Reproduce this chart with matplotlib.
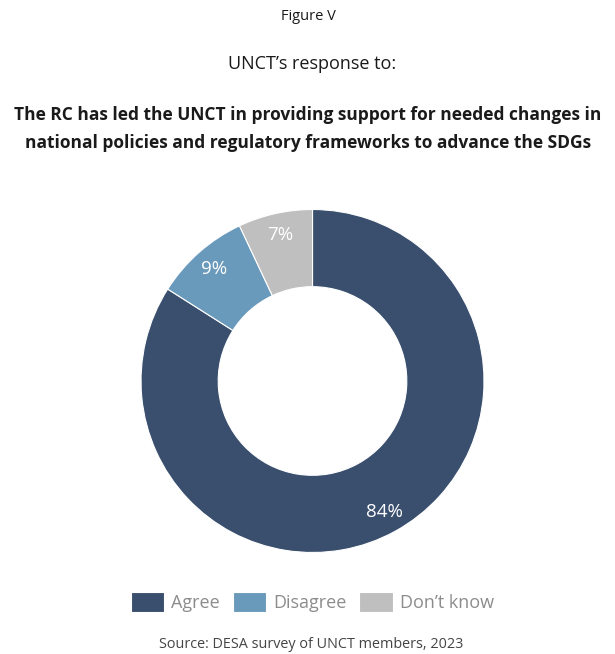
import matplotlib
matplotlib.use("Agg")
from matplotlib import pyplot as plt

plt.rcParams["font.family"] = ["Open Sans", "DejaVu Sans"]

categories = ["Agree", "Disagree", "Don\u2019t know"]
shares = [84, 9, 7]
colors = ["#3A4F6E", "#6A9ABB", "#BFBFBF"]

fig = plt.figure(figsize=(6.15, 6.54), dpi=100)

# Titelrader
fig.text(0.501, 1 - 17 / 654, "Figure V", ha="center", va="center", fontsize=10.5, color="#1A1A1A")
fig.text(0.508, 1 - 64 / 654, "UNCT\u2019s response to:", ha="center", va="center", fontsize=13, color="#1A1A1A")
fig.text(0.501, 1 - 129 / 654,
         "The RC has led the UNCT in providing support for needed changes in\n"
         "national policies and regulatory frameworks to advance the SDGs",
         ha="center", va="center", fontsize=12.5, fontweight="bold", color="#1A1A1A",
         linespacing=1.75)

# Munk-diagram
ax = fig.add_axes([0.2293, 0.1552, 0.5577, 0.5245])
wedges, texts, autotexts = ax.pie(
    shares, colors=colors, startangle=90, counterclock=False,
    radius=1, autopct="%d%%", pctdistance=0.87,
    wedgeprops=dict(width=0.45, edgecolor="white", linewidth=0.8),
    textprops=dict(color="white", fontsize=13.5))
ax.set_xlim(-1, 1)
ax.set_ylim(-1, 1)
ax.set_aspect("equal")
ax.axis("off")

leg = fig.legend(wedges, categories, loc="center", bbox_to_anchor=(0.508, 1 - 602 / 654),
                 ncol=3, frameon=False, fontsize=13, handlelength=1.85, handleheight=1.3,
                 handletextpad=0.4, columnspacing=0.7)
for t in leg.get_texts():
    t.set_color("#8C8C8C")

fig.text(0.506, 1 - 645 / 654, "Source: DESA survey of UNCT members, 2023",
         ha="center", va="center", fontsize=10.4, color="#444444")

fig.savefig("out.png", dpi=100)
